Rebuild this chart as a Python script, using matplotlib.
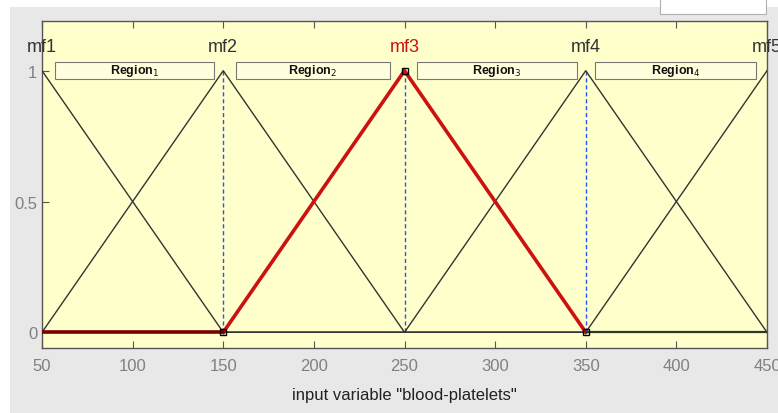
import matplotlib.pyplot as plt
from matplotlib.patches import Rectangle
from matplotlib import font_manager

# membership functions (triangles) for "blood-platelets"
mf_names = ['mf1', 'mf2', 'mf3', 'mf4', 'mf5']
mf_peaks = [50, 150, 250, 350, 450]
mf_halfwidth = 100
x_range = [50, 450]
selected = 2  # mf3 is highlighted

region_names = ['Region$_1$', 'Region$_2$', 'Region$_3$', 'Region$_4$']
region_left = [57, 157, 257, 355]
region_right = [145, 242, 345, 444]
region_bottom = 0.97
region_top = 1.035

xticks = [50, 100, 150, 200, 250, 300, 350, 400, 450]
yticks = [0, 0.5, 1]

names = [f.name for f in font_manager.fontManager.ttflist]
narrow = 'Liberation Sans Narrow' if 'Liberation Sans Narrow' in names else 'Liberation Sans'
plt.rcParams['font.family'] = [narrow, 'DejaVu Sans']


def tri(i):
    # corner points of a triangular mf spread over the whole range
    p = mf_peaks[i]
    xs = [x_range[0], max(p - mf_halfwidth, x_range[0]), p,
          min(p + mf_halfwidth, x_range[1]), x_range[1]]
    ys = [max(0.0, 1 - abs(x - p) / mf_halfwidth) for x in xs]
    return xs, ys


fig = plt.figure(figsize=(7.78, 4.14), dpi=100, facecolor='white')
fig.patches.append(Rectangle((10 / 778, 0), 1, 1 - 8 / 414, transform=fig.transFigure,
                             facecolor='#e8e8e8', edgecolor='none', zorder=-2))
fig.patches.append(Rectangle((660 / 778, 1 - 15 / 414), 106 / 778, 0.05, transform=fig.transFigure,
                             facecolor='white', edgecolor='#b0b0b0', lw=0.8, zorder=-1))

ax = fig.add_axes([42 / 778, 1 - 349 / 414, 725 / 778, 327 / 414])
ax.set_facecolor('#ffffcc')

for i in range(len(mf_peaks)):
    if i == selected:
        continue
    xs, ys = tri(i)
    ax.plot(xs, ys, color='#333333', lw=1.0, zorder=3)

xs, ys = tri(selected)
ax.plot(xs[1:4], ys[1:4], color='#cc1111', lw=2.6, zorder=4)
ax.plot(xs[0:2], ys[0:2], color='#7a0000', lw=2.6, zorder=4)
ax.plot(xs[3:], ys[3:], color='#2a3a2a', lw=1.6, zorder=4)

for k in range(selected - 1, selected + 2):
    ax.plot([mf_peaks[k], mf_peaks[k]], [0, 1], color='#2255ff', lw=1.0,
            ls=(0, (3, 2)), zorder=2)
ax.plot(xs[1:4], ys[1:4], ls='none', marker='s', ms=5, mfc='none', mec='black',
        mew=1.0, zorder=5)

for i, name in enumerate(mf_names):
    ax.text(mf_peaks[i], 1.06, name, ha='center', va='bottom', fontsize=13,
            color='#cc1111' if i == selected else '#333333', clip_on=False)

for name, l, r in zip(region_names, region_left, region_right):
    ax.add_patch(Rectangle((l, region_bottom), r - l, region_top - region_bottom,
                           facecolor='#ffffdd', edgecolor='#777777', lw=0.8, zorder=3))
    ax.text((l + r) / 2, (region_bottom + region_top) / 2, name, ha='center', va='center',
            fontsize=9, fontweight='bold', color='#111111', zorder=4)

ax.set_xlim(x_range)
ax.set_ylim(-0.06, 1.19)
ax.set_xticks(xticks)
ax.set_yticks(yticks)
ax.set_yticklabels(['0', '0.5', '1'])
ax.tick_params(direction='in', top=True, right=False, length=5, color='#555555',
               labelcolor='#808080', labelsize=12)
ax.tick_params(axis='x', pad=7)
for s in ax.spines.values():
    s.set_color('#555555')
    s.set_linewidth(1.0)

ax.set_xlabel('input variable "blood-platelets"', fontsize=12, color='#222222', labelpad=10)

fig.savefig('out.png', dpi=100, facecolor=fig.get_facecolor())
